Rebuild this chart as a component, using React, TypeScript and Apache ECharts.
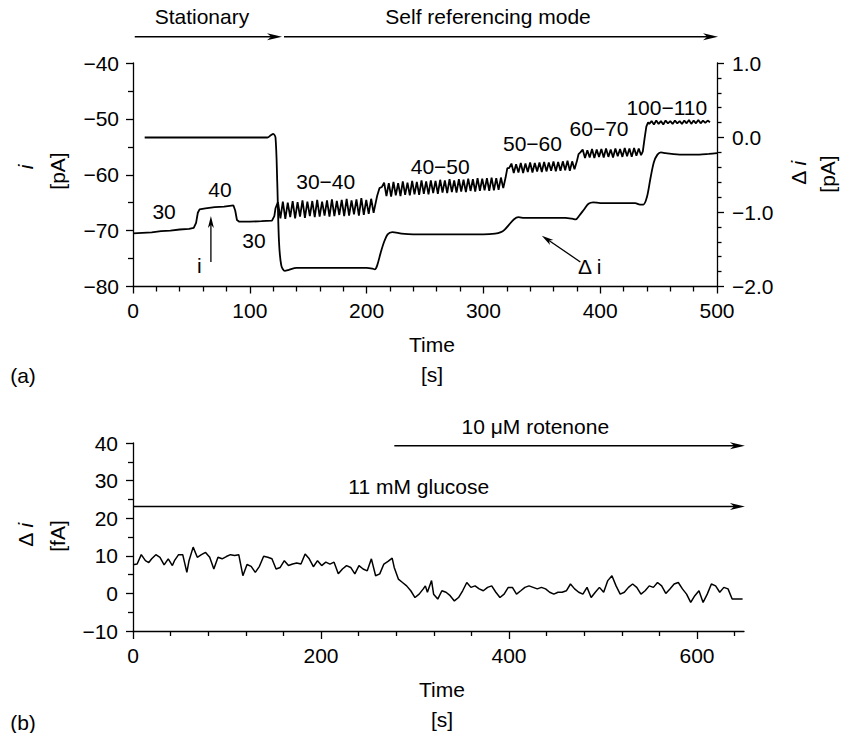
import React, { useEffect, useRef } from "react";
import * as echarts from "echarts";

const FONT = '"Liberation Sans", Arial, Helvetica, sans-serif';
const FS = 21;

// ---------------- Panel (a) data ----------------
const topTimeTicks = [0, 100, 200, 300, 400, 500];
const leftIAxisTicks = [-80, -70, -60, -50, -40];
const rightDeltaAxisTicks = [-2, -1, 0, 1];

// current i [pA] – stationary part
const iStationary: number[][] = [
  [0, -70.5], [8, -70.4], [16, -70.3], [24, -70.1], [32, -70.0], [40, -69.8],
  [48, -69.7], [52, -69.5], [54, -68.6], [55.5, -66.8], [57, -66.2], [62, -66.0],
  [70, -65.8], [78, -65.7], [86, -65.5], [87.5, -66.4], [89, -68.1], [91, -68.4],
  [100, -68.4], [110, -68.3], [119, -68.2], [121, -67.4],
];
// self referencing mode, oscillating segments (start time, sample step, values)
const i3040Start = 122;
const i3040Step = 2.1;
const i3040 = [
  -66.0, -64.9, -67.8, -64.8, -67.9, -65.0, -67.6, -64.7, -67.8, -64.9, -67.5, -64.6,
  -67.7, -64.8, -67.4, -64.7, -67.6, -64.5, -67.5, -64.8, -67.3, -64.6, -67.5, -64.4,
  -67.4, -64.7, -67.2, -64.5, -67.4, -64.3, -67.3, -64.6, -67.1, -64.4, -67.3, -64.2,
  -67.2, -64.5, -67.0, -64.3, -66.8,
];
const iStep1: number[][] = [[207, -65.8], [209, -63.8], [211, -62.4]];
const i4050Start = 213;
const i4050Step = 2.0;
const i4050 = [
  -62.2, -61.4, -63.8, -61.5, -63.9, -61.3, -63.7, -61.5, -63.8, -61.2, -63.6, -61.4,
  -63.7, -61.1, -63.5, -61.3, -63.6, -61.0, -63.4, -61.2, -63.5, -61.0, -63.3, -61.1,
  -63.4, -60.9, -63.2, -61.0, -63.3, -60.8, -63.1, -61.0, -63.2, -60.8, -63.0, -60.9,
  -63.1, -60.7, -62.9, -60.8, -63.0, -60.6, -62.9, -60.7, -62.8, -60.6, -62.9, -60.5,
  -62.8, -60.6, -62.7, -60.5, -62.4,
];
const iStep2: number[][] = [[319, -60.5], [320.5, -58.8]];
const i5060Start = 322;
const i5060Step = 2.0;
const i5060 = [
  -58.8, -58.0, -59.7, -58.1, -59.6, -57.9, -59.7, -58.0, -59.5, -57.8, -59.6, -57.9,
  -59.4, -57.8, -59.5, -57.7, -59.4, -57.8, -59.3, -57.6, -59.4, -57.7, -59.3, -57.6,
  -59.2, -57.5, -59.3, -57.6, -59.0,
];
const iStep3: number[][] = [[380, -57.6], [381.5, -56.3]];
const i6070Start = 383;
const i6070Step = 2.0;
const i6070 = [
  -56.0, -55.5, -57.0, -55.6, -56.9, -55.4, -57.0, -55.5, -56.8, -55.4, -56.9, -55.3,
  -56.8, -55.5, -56.9, -55.3, -56.7, -55.4, -56.8, -55.2, -56.7, -55.3, -56.8, -55.2,
  -56.6, -55.3, -56.5,
];
const iStep4: number[][] = [[436.5, -55.8], [438, -53.5], [439.5, -51.4], [441, -50.6]];
const i100110Start = 442;
const i100110Step = 2.0;
const i100110 = [
  -50.9, -50.4, -51.0, -50.3, -50.9, -50.4, -51.0, -50.3, -50.8, -50.4, -50.9, -50.3,
  -50.8, -50.4, -50.9, -50.3, -50.8, -50.2, -50.9, -50.3, -50.8, -50.2, -50.8, -50.3,
  -50.7, -50.3, -50.6,
];

// Δi [pA] (right axis)
const deltaIpA: number[][] = [
  [10, 0.0], [50, 0.0], [100, 0.0], [115, 0.0], [118, 0.03], [120, 0.05], [122, 0.0],
  [123.5, -0.6], [125, -1.4], [127, -1.72], [130, -1.79], [133, -1.78], [140, -1.75],
  [160, -1.75], [180, -1.75], [200, -1.75], [205, -1.76], [207, -1.77], [209, -1.72],
  [212, -1.55], [215, -1.4], [218, -1.3], [222, -1.27], [230, -1.29], [240, -1.3],
  [260, -1.3], [280, -1.3], [300, -1.3], [310, -1.29], [315, -1.27], [318, -1.24],
  [322, -1.17], [326, -1.1], [330, -1.07], [335, -1.08], [350, -1.08], [370, -1.08],
  [376, -1.09], [379, -1.1], [382, -1.05], [386, -0.97], [390, -0.89], [394, -0.87],
  [400, -0.88], [420, -0.88], [430, -0.88], [434, -0.9], [437, -0.9], [440, -0.8],
  [443, -0.55], [446, -0.33], [449, -0.23], [452, -0.2], [456, -0.21], [470, -0.23],
  [485, -0.23], [493, -0.22], [500, -0.21],
];

// annotations of panel (a): [text, time, i]
const topLabels: [string, number, number][] = [
  ["30", 26.6, -66.6],
  ["40", 74.5, -62.6],
  ["30", 103.5, -71.8],
  ["30\u221240", 165, -61.2],
  ["40\u221250", 263, -58.6],
  ["50\u221260", 342, -54.4],
  ["60\u221270", 399, -51.8],
  ["100\u2212110", 457, -47.9],
];

// ---------------- Panel (b) data ----------------
const bottomTimeLabels = [0, 200, 400, 600];
const bottomMinorTicks = [40, 80, 120, 160, 240, 280, 320, 360, 440, 480, 520, 560, 640];
const bottomDeltaAxisTicks = [-10, 0, 10, 20, 30, 40];
const bottomTime = [
  0, 4.4, 8.8, 13.2, 16.8, 19.9, 24.3, 28.7, 33.1, 37.5, 41.9, 44.1, 48.5, 52.9, 57.3,
  59.6, 64.0, 68.4, 72.8, 77.2, 81.6, 86.0, 90.4, 94.8, 99.3, 103.7, 108.1, 112.5, 116.9,
  121.3, 125.7, 130.1, 134.5, 139.0, 143.4, 147.8, 152.2, 156.6, 161.0, 165.4, 169.8,
  174.2, 178.7, 183.1, 187.5, 191.9, 196.3, 200.7, 205.1, 209.5, 213.9, 218.4, 222.8,
  227.2, 231.6, 236.0, 240.4, 244.8, 249.2, 253.6, 258.1, 262.5, 266.9, 271.3, 275.7,
  277.9, 282.3, 286.7, 291.1, 295.5, 300.0,
  304.4, 308.8, 311.0, 313.2, 317.6, 319.8, 324.2, 328.6, 333.0, 337.4, 341.9, 346.3,
  350.7, 355.1, 359.5, 363.9, 368.3, 372.7, 377.2, 381.6, 386.0, 390.4, 394.8, 399.2,
  403.6, 408.0, 412.5, 416.9, 421.3, 425.7, 430.1, 434.5, 438.9, 443.3, 447.7, 452.1,
  456.5, 461.0, 465.4, 469.8, 474.2, 478.6, 483.0, 487.4, 491.8, 496.2, 500.7, 505.1,
  509.5, 513.9, 518.3, 522.7, 527.1, 531.5, 535.9, 540.4, 544.8, 549.2, 553.6, 558.0,
  562.4, 566.8, 571.2, 575.7, 580.1, 584.5, 588.9, 593.3, 597.7, 602.1, 606.5, 610.9,
  615.3, 619.8, 624.2, 628.6, 633.0, 637.4, 641.8, 648.5,
];
const bottomDeltaIfA = [
  7.6, 7.8, 10.3, 8.7, 8.2, 9.2, 10.3, 9.6, 7.6, 9.2, 7.4, 8.7, 10.3, 10.3, 5.6, 8.7,
  12.3, 9.6, 10.3, 10.9, 9.6, 6.5, 9.6, 9.2, 9.8, 10.3, 10.1, 10.3, 4.7, 7.7, 7.2, 5.6,
  7.2, 9.9, 9.6, 9.2, 6.5, 6.9, 8.7, 7.4, 7.8, 8.1, 7.8, 10.5, 9.2, 7.1, 8.7, 7.4, 8.3,
  7.8, 8.3, 5.2, 6.5, 7.4, 6.9, 5.2, 7.4, 6.5, 6.0, 9.2, 4.7, 5.2, 7.8, 8.5, 9.4, 6.9,
  3.8, 2.9, 2.0, 0.7, -1.1,
  -0.2, 1.2, 2.0, 0.3, 3.4, -0.2, -1.5, 0.7, 0.3, -0.6,
  -2.0, -1.1, 0.7, 2.9, 1.6, 2.0, 1.2, 0.7, 1.6, 2.0,
  0.3, -1.1, -0.2, 1.6, 1.6, -0.2, 0.7, 1.6, 2.0, 1.6,
  1.2, 1.6, 1.2, 0.3, -0.2, 0.3, 0.3, 0.7, 2.5, 1.2,
  0.3, -0.2, 1.6, -1.1, 0.3, 1.6, 0.3, 3.4, 4.7, 2.0,
  -0.2, 0.3, 1.6, 2.5, 1.6, -0.2, 0.7, 2.0, 1.6, 2.9,
  2.0, 0.0, 1.2, 2.5, 2.9, 1.2, -0.2, -2.4, -0.6, 0.7,
  -2.4, -0.2, 2.5, 2.0, 0.3, 1.6, 1.2, -1.5, -1.5, -1.5,
];
// treatments: [label, start time, level of arrow, label time, label level]
const treatments: [string, number, number, number, number][] = [
  ["11 mM glucose", 0, 23.1, 304, 28.4],
  ["10 \u03bcM rotenone", 278, 39.3, 428, 44.4],
];

function seg(start: number, step: number, vals: number[]) {
  return vals.map((v, k) => [start + step * k, v]);
}

const minus = (s: string) => s.replace("-", "\u2212");

export default function App() {
  const ref = useRef<HTMLDivElement>(null);
  useEffect(() => {
    if (!ref.current) return;
    const chart = echarts.init(ref.current, null, { renderer: "svg" });

    const iData = [
      ...iStationary,
      ...seg(i3040Start, i3040Step, i3040),
      ...iStep1,
      ...seg(i4050Start, i4050Step, i4050),
      ...iStep2,
      ...seg(i5060Start, i5060Step, i5060),
      ...iStep3,
      ...seg(i6070Start, i6070Step, i6070),
      ...iStep4,
      ...seg(i100110Start, i100110Step, i100110),
    ];
    const bottomData = bottomTime.map((t, k) => [t, bottomDeltaIfA[k]]);

    const line = { color: "#000", width: 1.3 };
    const lbl = { color: "#000", fontSize: FS, fontFamily: FONT };
    const base = {
      type: "value" as const,
      axisLine: { show: true, onZero: false, lineStyle: line },
      axisTick: { show: true, inside: false, length: 7, lineStyle: line },
      splitLine: { show: false },
      minorSplitLine: { show: false },
    };

    chart.setOption({
      animation: false,
      backgroundColor: "#fff",
      grid: [
        { left: 133, top: 63, width: 584, height: 223.5 },
        { left: 133, top: 443, width: 611, height: 188 },
      ],
      xAxis: [
        {
          ...base, gridIndex: 0, min: topTimeTicks[0], max: topTimeTicks[topTimeTicks.length - 1],
          interval: 100,
          minorTick: { show: true, splitNumber: 5, length: 5, lineStyle: line },
          axisLabel: { ...lbl, margin: 13 },
        },
        {
          ...base, gridIndex: 1, min: 0, max: 650, interval: 200, position: "bottom", offset: 0,
          axisTick: { show: true, inside: false, length: 8, lineStyle: line, customValues: bottomTimeLabels },
          minorTick: { show: false },
          axisLabel: { ...lbl, margin: 14, customValues: bottomTimeLabels },
        },
        {
          ...base, gridIndex: 1, min: 0, max: 650, position: "bottom", offset: 0,
          axisLine: { show: false, onZero: false },
          axisTick: { show: true, inside: false, length: 5, lineStyle: line, customValues: bottomMinorTicks },
          axisLabel: { show: false },
        },
      ],
      yAxis: [
        {
          ...base, gridIndex: 0, position: "left", min: leftIAxisTicks[0], max: leftIAxisTicks[leftIAxisTicks.length - 1],
          interval: 10,
          minorTick: { show: true, splitNumber: 2, length: 5, lineStyle: line },
          axisLabel: { ...lbl, margin: 14, formatter: (v: number) => minus(String(v)) },
        },
        {
          ...base, gridIndex: 0, position: "right", min: rightDeltaAxisTicks[0], max: rightDeltaAxisTicks[rightDeltaAxisTicks.length - 1],
          interval: 1,
          minorTick: { show: true, splitNumber: 5, length: 4.5, lineStyle: line },
          axisLabel: { ...lbl, margin: 15, formatter: (v: number) => minus(v.toFixed(1)) },
        },
        {
          ...base, gridIndex: 1, position: "left", min: bottomDeltaAxisTicks[0], max: bottomDeltaAxisTicks[bottomDeltaAxisTicks.length - 1],
          interval: 10,
          minorTick: { show: true, splitNumber: 2, length: 5, lineStyle: line },
          axisLabel: { ...lbl, margin: 15, formatter: (v: number) => minus(String(v)) },
        },
      ],
      series: [
        {
          type: "line", xAxisIndex: 0, yAxisIndex: 0, data: iData, symbol: "none",
          lineStyle: { color: "#000", width: 1.8 }, silent: true, clip: false,
        },
        {
          type: "line", xAxisIndex: 0, yAxisIndex: 1, data: deltaIpA, symbol: "none", smooth: 0.3,
          lineStyle: { color: "#000", width: 1.8 }, silent: true,
        },
        {
          type: "line", xAxisIndex: 1, yAxisIndex: 2, data: bottomData, symbol: "none",
          lineStyle: { color: "#000", width: 1.5 }, silent: true,
        },
      ],
    });

    const pA = (t: number, v: number) => chart.convertToPixel({ xAxisIndex: 0, yAxisIndex: 0 }, [t, v]) as number[];
    const pB = (t: number, v: number) => chart.convertToPixel({ xAxisIndex: 1, yAxisIndex: 2 }, [t, v]) as number[];

    const txt = (s: string, x: number, y: number, extra: any = {}, rot = 0): any => ({
      type: "text", x, y, rotation: rot, silent: true,
      style: {
        text: s, fill: "#000", fontSize: FS, fontFamily: FONT, align: "center", verticalAlign: "middle",
        ...extra,
      },
    });
    const arrow = (p1: number[], p2: number[], L: number, W: number, lw: number): any[] => {
      const dx = p2[0] - p1[0], dy = p2[1] - p1[1];
      const len = Math.hypot(dx, dy);
      const ux = dx / len, uy = dy / len, px = -uy, py = ux;
      const bx = p2[0] - ux * L, by = p2[1] - uy * L;
      const nx = p2[0] - ux * L * 0.72, ny = p2[1] - uy * L * 0.72;
      return [
        { type: "line", silent: true, shape: { x1: p1[0], y1: p1[1], x2: nx, y2: ny }, style: { stroke: "#000", lineWidth: lw } },
        {
          type: "polygon", silent: true,
          shape: { points: [[p2[0], p2[1]], [bx + px * W / 2, by + py * W / 2], [nx, ny], [bx - px * W / 2, by - py * W / 2]] },
          style: { fill: "#000" },
        },
      ];
    };
    const italic = { it: { fontStyle: "italic", fontSize: FS, fontFamily: FONT, fill: "#000" } };

    const els: any[] = [];
    // top mode arrows
    const yModeText = -31.75, yModeArrow = -35.3;
    let p = pA(59, yModeText); els.push(txt("Stationary", p[0], p[1]));
    p = pA(304, yModeText); els.push(txt("Self referencing mode", p[0], p[1]));
    els.push(...arrow(pA(1.5, yModeArrow), pA(127.6, yModeArrow), 15, 7, 1.5));
    els.push(...arrow(pA(129.3, yModeArrow), pA(500.9, yModeArrow), 15, 7, 1.5));
    // labels in panel (a)
    topLabels.forEach(([s, t, v]) => { const q = pA(t, v); els.push(txt(s, q[0], q[1])); });
    p = pA(56.7, -76.2); els.push(txt("i", p[0], p[1]));
    els.push(...arrow(pA(66.7, -75.6), pA(66.7, -67.4), 12, 6, 1.3));
    p = pA(391, -76.5); els.push(txt("\u0394 i", p[0], p[1]));
    els.push(...arrow(pA(383, -75.6), pA(350, -70.9), 12, 6, 1.3));
    // axis titles panel (a)
    els.push(txt("i", 25, 167, { fontStyle: "italic" }, Math.PI / 2));
    els.push(txt("[pA]", 57, 171, {}, Math.PI / 2));
    els.push(txt("\u0394 {it|i}", 798, 173, { rich: italic }, Math.PI / 2));
    els.push(txt("[pA]", 827, 174, {}, Math.PI / 2));
    els.push(txt("Time", 432, 344));
    els.push(txt("[s]", 432, 374));
    els.push(txt("(a)", 23, 375));
    // panel (b)
    treatments.forEach(([s, t0, lvl, tl, vl]) => {
      els.push(...arrow(pB(t0, lvl), pB(651, lvl), 15, 7, 1.5));
      const q = pB(tl, vl); els.push(txt(s, q[0], q[1]));
    });
    els.push(txt("\u0394 {it|i}", 25, 535, { rich: italic }, Math.PI / 2));
    els.push(txt("[fA]", 57, 536, {}, Math.PI / 2));
    els.push(txt("Time", 442, 689));
    els.push(txt("[s]", 442, 719));
    els.push(txt("(b)", 23, 722));

    chart.setOption({ graphic: { elements: els } });

    return () => chart.dispose();
  }, []);

  return (
    <div
      ref={ref}
      style={{ position: "fixed", left: 0, top: 0, width: 841, height: 733, background: "#fff" }}
    />
  );
}
